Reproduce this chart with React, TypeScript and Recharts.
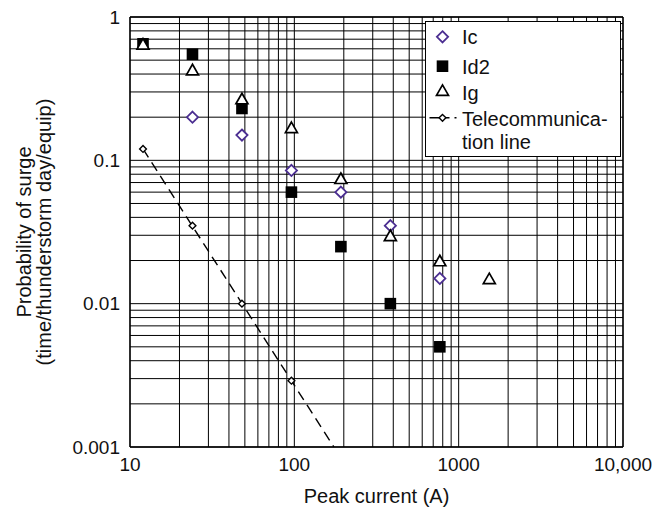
import React from 'react';
import { ScatterChart, Scatter, XAxis, YAxis, CartesianGrid, Legend, ReferenceLine } from 'recharts';

// ---- data ----
const icCurrents = [24, 48, 96, 192, 384, 768];
const icProb = [0.2, 0.15, 0.085, 0.06, 0.035, 0.015];

const id2Currents = [12, 24, 48, 96, 192, 384, 768];
const id2Prob = [0.65, 0.55, 0.23, 0.06, 0.025, 0.01, 0.005];

const igCurrents = [12, 24, 48, 96, 192, 384, 768, 1536];
const igProb = [0.65, 0.43, 0.27, 0.17, 0.075, 0.03, 0.02, 0.015];

const telecomCurrents = [12, 24, 48, 96];
const telecomProb = [0.12, 0.035, 0.01, 0.0029];

const telecomFitCurrents = [12, 174];
const telecomFitProb = [0.12, 0.001];

const xGridTicks = [
  10, 20, 30, 40, 50, 60, 70, 80, 90,
  100, 200, 300, 400, 500, 600, 700, 800, 900,
  1000, 2000, 3000, 4000, 5000, 6000, 7000, 8000, 9000, 10000,
];
const xTickLabels: Record<number, string> = { 10: '10', 100: '100', 1000: '1000', 10000: '10,000' };

const yGridTicks = [
  0.001, 0.002, 0.003, 0.004, 0.005, 0.006, 0.007, 0.008, 0.009,
  0.01, 0.02, 0.03, 0.04, 0.05, 0.06, 0.07, 0.08, 0.09,
  0.1, 0.2, 0.3, 0.4, 0.5, 0.6, 0.7, 0.8, 0.9, 1,
];
const yTickLabels: Record<string, string> = { '0.001': '0.001', '0.01': '0.01', '0.1': '0.1', '1': '1' };

const seriesNames = ['Ic', 'Id2', 'Ig', 'Telecommunica-', 'tion line'];

const zip = (xs: number[], ys: number[]) => xs.map((x, i) => ({ x, y: ys[i] }));

const icData = zip(icCurrents, icProb);
const id2Data = zip(id2Currents, id2Prob);
const igData = zip(igCurrents, igProb);
const telecomData = zip(telecomCurrents, telecomProb);
const telecomFitData = zip(telecomFitCurrents, telecomFitProb);

const FONT = '"Liberation Sans", Arial, Helvetica, sans-serif';
const PURPLE = '#4B2E91';

// ---- marker shapes ----
const diamondPts = (cx: number, cy: number, r: number) =>
  `${cx},${cy - r} ${cx + r},${cy} ${cx},${cy + r} ${cx - r},${cy}`;
const trianglePts = (cx: number, cy: number, w: number, h: number) =>
  `${cx},${cy - h / 2} ${cx + w / 2},${cy + h / 2} ${cx - w / 2},${cy + h / 2}`;

const IcShape = (p: any) => (
  <polygon points={diamondPts(p.cx, p.cy, 5.6)} fill="#fff" stroke={PURPLE} strokeWidth={1.8} />
);
const Id2Shape = (p: any) => (
  <rect x={p.cx - 5.8} y={p.cy - 5.8} width={11.6} height={11.6} fill="#000" />
);
const IgShape = (p: any) => (
  <polygon points={trianglePts(p.cx, p.cy, 12, 10.5)} fill="#fff" stroke="#000" strokeWidth={1.7} strokeLinejoin="miter" />
);
const TelecomShape = (p: any) => (
  <polygon points={diamondPts(p.cx, p.cy, 3.4)} fill="#fff" stroke="#000" strokeWidth={1.4} />
);
const NoShape = () => <g />;

// ---- labels ----
const YLabel = (props: any) => {
  const vb = props.viewBox || { x: 20, y: 17, width: 110, height: 430 };
  const cx = vb.x + 11;
  const cy = vb.y + vb.height / 2;
  return (
    <text
      x={cx}
      y={cy}
      transform={`rotate(-90, ${cx}, ${cy})`}
      textAnchor="middle"
      fontSize={20}
      fontFamily={FONT}
      fill="#111"
    >
      <tspan x={cx} dy={0}>Probability of surge</tspan>
      <tspan x={cx} dy={20}>(time/thunderstorm day/equip)</tspan>
    </text>
  );
};

const XLabel = (props: any) => {
  const vb = props.viewBox || { x: 130, y: 447, width: 493, height: 40 };
  return (
    <text
      x={vb.x + vb.width / 2}
      y={vb.y + 56}
      textAnchor="middle"
      fontSize={20}
      fontFamily={FONT}
      fill="#111"
    >
      Peak current (A)
    </text>
  );
};

// ---- legend ----
const renderLegend = () => {
  const ix = 16.5;
  const tx = 36;
  return (
    <svg width={193} height={133} style={{ display: 'block' }}>
      <polygon points={diamondPts(ix, 14.8, 5.6)} fill="#fff" stroke={PURPLE} strokeWidth={1.8} />
      <text x={tx} y={21.8} fontSize={20} fontFamily={FONT} fill="#111">{seriesNames[0]}</text>

      <rect x={ix - 5.8} y={44.2 - 5.8} width={11.6} height={11.6} fill="#000" />
      <text x={tx} y={51.5} fontSize={20} fontFamily={FONT} fill="#111">{seriesNames[1]}</text>

      <polygon points={trianglePts(ix, 68.2, 12, 10.5)} fill="#fff" stroke="#000" strokeWidth={1.7} />
      <text x={tx} y={77.5} fontSize={20} fontFamily={FONT} fill="#111">{seriesNames[2]}</text>

      <line x1={3.5} y1={95.8} x2={30.5} y2={95.8} stroke="#000" strokeWidth={1.4} strokeDasharray="20 5 6 5" />
      <polygon points={diamondPts(ix, 95.8, 3.4)} fill="#fff" stroke="#000" strokeWidth={1.4} />
      <text x={tx} y={104} fontSize={20} fontFamily={FONT} fill="#111">{seriesNames[3]}</text>
      <text x={tx} y={126.5} fontSize={20} fontFamily={FONT} fill="#111">{seriesNames[4]}</text>
    </svg>
  );
};

export default function App() {
  return (
    <div style={{ position: 'absolute', left: 0, top: 0, width: 672, height: 510, background: '#fff', fontFamily: FONT }}>
      <ScatterChart
        width={672}
        height={510}
        margin={{ top: 17, right: 49, bottom: 23, left: 20 }}
        style={{ fontFamily: FONT }}
      >
        <CartesianGrid stroke="#000" strokeWidth={1} />
        <XAxis
          type="number"
          dataKey="x"
          scale="log"
          domain={[10, 10000]}
          allowDataOverflow
          ticks={xGridTicks}
          interval={0}
          tickFormatter={(v: number) => xTickLabels[v] ?? ''}
          tickLine={false}
          axisLine={false}
          tickSize={0}
          tickMargin={11}
          height={40}
          tick={{ fill: '#111', fontSize: 19, fontFamily: FONT }}
          label={XLabel}
        />
        <YAxis
          type="number"
          dataKey="y"
          scale="log"
          domain={[0.001, 1]}
          allowDataOverflow
          ticks={yGridTicks}
          interval={0}
          tickFormatter={(v: number) => yTickLabels[String(v)] ?? ''}
          tickLine={false}
          axisLine={false}
          tickSize={0}
          tickMargin={10}
          width={110}
          tick={{ fill: '#111', fontSize: 19, fontFamily: FONT }}
          label={YLabel}
        />
        <ReferenceLine x={10} stroke="#000" strokeWidth={1.3} />
        <ReferenceLine x={10000} stroke="#000" strokeWidth={1.3} />
        <ReferenceLine y={0.001} stroke="#000" strokeWidth={1.3} />
        <ReferenceLine y={1} stroke="#000" strokeWidth={1.3} />

        <Scatter
          name="telecom fit"
          data={telecomFitData}
          shape={NoShape}
          line={{ stroke: '#000', strokeWidth: 1.4, strokeDasharray: '10 6' }}
          legendType="none"
          isAnimationActive={false}
        />
        <Scatter name="Ic" data={icData} shape={IcShape} isAnimationActive={false} />
        <Scatter name="Id2" data={id2Data} shape={Id2Shape} isAnimationActive={false} />
        <Scatter name="Ig" data={igData} shape={IgShape} isAnimationActive={false} />
        <Scatter name="Telecommunication line" data={telecomData} shape={TelecomShape} isAnimationActive={false} />

        <Legend
          layout="vertical"
          align="center"
          verticalAlign="middle"
          content={renderLegend}
          wrapperStyle={{
            position: 'absolute',
            left: 425,
            top: 21,
            width: 196,
            height: 136,
            boxSizing: 'border-box',
            border: '1.5px solid #000',
            background: '#fff',
            margin: 0,
            padding: 0,
          }}
        />
      </ScatterChart>
    </div>
  );
}
